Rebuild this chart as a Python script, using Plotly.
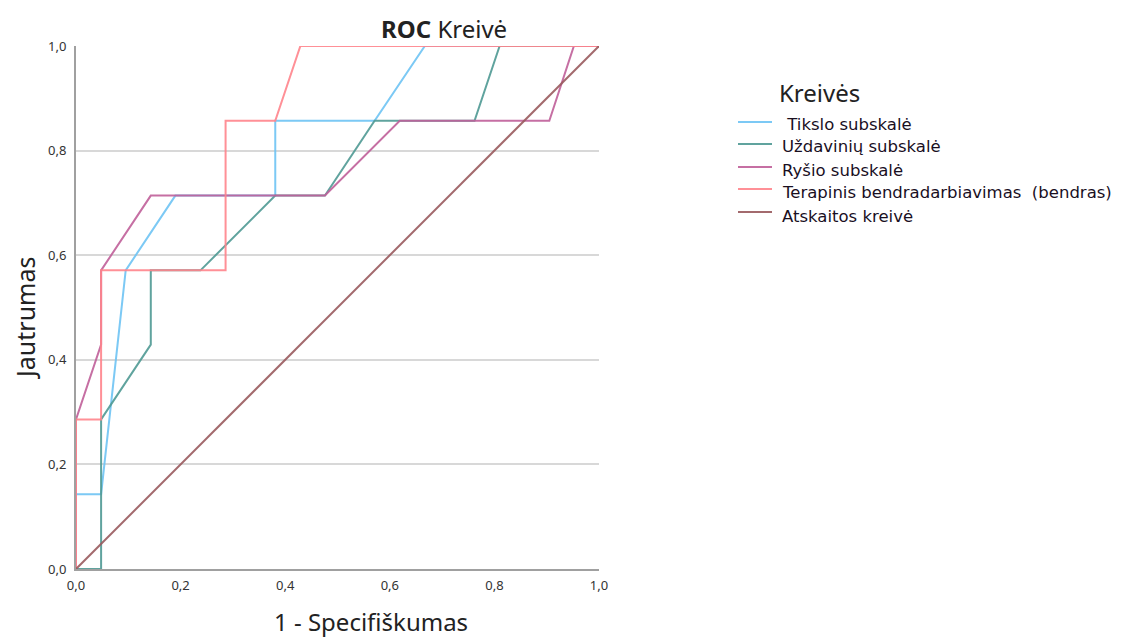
import plotly.graph_objects as go

# ROC curve points (1 - specificity, sensitivity) for each subscale
tikslo_x = [0, 0, 0.048, 0.095, 0.190, 0.381, 0.381, 0.571, 0.667, 1]
tikslo_y = [0, 0.143, 0.143, 0.571, 0.714, 0.714, 0.857, 0.857, 1, 1]

uzdaviniu_x = [0, 0.048, 0.048, 0.143, 0.143, 0.238, 0.381, 0.476, 0.571, 0.762, 0.810, 1]
uzdaviniu_y = [0, 0, 0.286, 0.429, 0.571, 0.571, 0.714, 0.714, 0.857, 0.857, 1, 1]

rysio_x = [0, 0, 0.048, 0.048, 0.143, 0.476, 0.619, 0.905, 0.952, 1]
rysio_y = [0, 0.286, 0.429, 0.571, 0.714, 0.714, 0.857, 0.857, 1, 1]

terapinis_x = [0, 0, 0.048, 0.048, 0.286, 0.286, 0.381, 0.429, 1]
terapinis_y = [0, 0.286, 0.286, 0.571, 0.571, 0.857, 0.857, 1, 1]

atskaitos_x = [0, 1]
atskaitos_y = [0, 1]

series_names = [
    " Tikslo subskalė",
    "Uždavinių subskalė",
    "Ryšio subskalė",
    "Terapinis bendradarbiavimas  (bendras)",
    "Atskaitos kreivė",
]
series_colors = ["#6ec4f4", "#4f9a94", "#c0609a", "#ff848c", "#9a5a5e"]
series_data = [
    (tikslo_x, tikslo_y),
    (uzdaviniu_x, uzdaviniu_y),
    (rysio_x, rysio_y),
    (terapinis_x, terapinis_y),
    (atskaitos_x, atskaitos_y),
]

FONT = "Noto Sans"
LEGEND_FONT = "DejaVu Sans"
# plot area in pixels: left 76, right 599, top 46, bottom 569
PL, PR, PT, PB = 76, 599, 46, 569


def px_x(px):
    return (px - PL) / (PR - PL)


def px_y(py):
    return (PB - py) / (PB - PT)


fig = go.Figure()
for name, color, (xs, ys) in zip(series_names, series_colors, series_data):
    fig.add_trace(go.Scatter(
        x=xs, y=ys, mode="lines", name=name,
        line=dict(color=color, width=2),
        opacity=0.9, showlegend=False,
    ))

annotations = [
    dict(text="<b>ROC</b> Kreivė", x=px_x(444), y=px_y(28),
         xanchor="center", yanchor="middle",
         font=dict(family=FONT, size=24, color="#222222")),
    dict(text="Jautrumas", x=px_x(25), y=px_y(318),
         xanchor="center", yanchor="middle", textangle=-90,
         font=dict(family=FONT, size=25, color="#222222")),
    dict(text="1 - Specifiškumas", x=px_x(371), y=px_y(621),
         xanchor="center", yanchor="middle",
         font=dict(family=FONT, size=24, color="#222222")),
    # legend block
    dict(text="Kreivės", x=px_x(777), y=px_y(92), xanchor="left", yanchor="middle",
         font=dict(family=FONT, size=24, color="#222222")),
]

shapes = []
legend_line_rows = [122, 144, 167, 189, 212]
legend_text_rows = [124, 147, 170, 193, 216]
for name, color, lrow, trow in zip(series_names, series_colors, legend_line_rows, legend_text_rows):
    shapes.append(dict(
        type="line", xref="paper", yref="paper",
        x0=px_x(738), x1=px_x(772), y0=px_y(lrow), y1=px_y(lrow),
        line=dict(color=color, width=2), opacity=0.9,
    ))
    annotations.append(dict(
        text=name, x=px_x(780), y=px_y(trow), xanchor="left", yanchor="middle",
        font=dict(family=LEGEND_FONT, size=16.5, color="#1a0f1f"),
    ))

for a in annotations:
    a.update(xref="paper", yref="paper", showarrow=False)

fig.update_layout(
    width=1140, height=639,
    margin=dict(l=PL, r=1140 - PR, t=PT, b=639 - PB),
    paper_bgcolor="white", plot_bgcolor="white",
    separators=", ",
    font=dict(family=FONT, color="#333333"),
    showlegend=False,
    annotations=annotations,
    shapes=shapes,
)

fig.update_xaxes(
    range=[0, 1], dtick=0.2, tickformat=".1f", showgrid=False, zeroline=False,
    showline=True, linecolor="#a0a0a0", linewidth=2, ticks="", ticklabelstandoff=3,
    tickfont=dict(family=FONT, size=13, color="#333333"), fixedrange=True,
)
fig.update_yaxes(
    range=[0, 1], dtick=0.2, tickformat=".1f", showgrid=True, gridcolor="#d8d8d8", gridwidth=2,
    zeroline=False, showline=True, linecolor="#a0a0a0", linewidth=2, ticks="",
    ticklabelstandoff=5,
    tickfont=dict(family=FONT, size=13, color="#333333"), fixedrange=True,
)

fig.write_html("out.html")
